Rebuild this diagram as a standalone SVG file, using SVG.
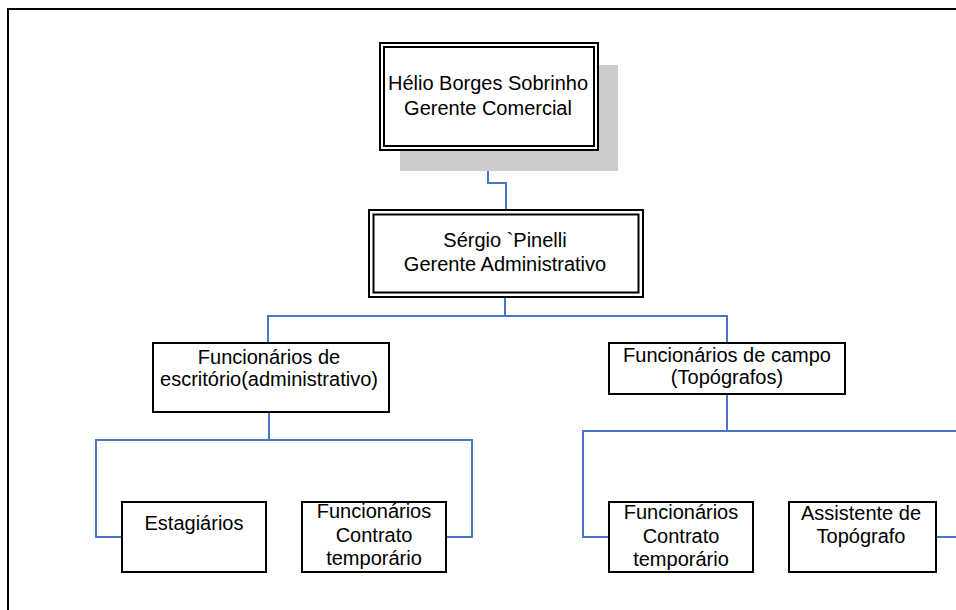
<svg xmlns="http://www.w3.org/2000/svg" width="956" height="610" viewBox="0 0 956 610">
  <style>
    .box { fill: #ffffff; stroke: #000000; stroke-width: 2; }
    .inner { fill: none; stroke: #000000; stroke-width: 2; }
    .shadow { fill: #cccccc; stroke: none; }
    .label { font-family: "Liberation Sans", Arial, sans-serif; font-size: 20px; fill: #000000; text-anchor: middle; }
    .link { fill: none; stroke: #4a78c6; stroke-width: 2; }
  </style>
  <rect x="0" y="0" width="956" height="610" fill="#ffffff"/>
  <!-- page frame -->
  <rect x="8" y="9" width="1000" height="700" fill="none" stroke="#000000" stroke-width="2"/>

  <g id="connectors">
    <path class="link" d="M488,150 V183 H506 V210"/>
    <path class="link" d="M505,297 V316"/>
    <path class="link" d="M268,343 V316 H727 V343"/>
    <path class="link" d="M269,412 V440"/>
    <path class="link" d="M122,537 H96 V440 H472 V537 H446"/>
    <path class="link" d="M727,394 V431"/>
    <path class="link" d="M609,537 H583 V431 H960"/>
    <path class="link" d="M936,537 H960"/>
  </g>

  <g id="gerente-comercial">
    <rect class="shadow" x="400" y="65" width="218" height="106"/>
    <rect class="box" x="380" y="43" width="218" height="107"/>
    <rect class="inner" x="384" y="47" width="210" height="99"/>
    <text class="label" x="488" y="90">Hélio Borges Sobrinho</text>
    <text class="label" x="488" y="115">Gerente Comercial</text>
  </g>

  <g id="gerente-administrativo">
    <rect class="box" x="369" y="210" width="274" height="87"/>
    <rect class="inner" x="373.5" y="214.5" width="265" height="78"/>
    <text class="label" x="505" y="247">Sérgio `Pinelli</text>
    <text class="label" x="505" y="271">Gerente Administrativo</text>
  </g>

  <g id="func-escritorio">
    <rect class="box" x="153" y="343" width="236" height="69"/>
    <text class="label" x="269" y="364">Funcionários de</text>
    <text class="label" x="269" y="386">escritório(administrativo)</text>
  </g>

  <g id="func-campo">
    <rect class="box" x="609" y="343" width="236" height="51"/>
    <text class="label" x="727" y="362">Funcionários de campo</text>
    <text class="label" x="727" y="384">(Topógrafos)</text>
  </g>

  <g id="estagiarios">
    <rect class="box" x="122" y="502" width="144" height="70"/>
    <text class="label" x="194" y="530">Estagiários</text>
  </g>

  <g id="contrato-escritorio">
    <rect class="box" x="302" y="502" width="144" height="70"/>
    <text class="label" x="374" y="518">Funcionários</text>
    <text class="label" x="374" y="542">Contrato</text>
    <text class="label" x="374" y="565">temporário</text>
  </g>

  <g id="contrato-campo">
    <rect class="box" x="609" y="502" width="144" height="70"/>
    <text class="label" x="681" y="519">Funcionários</text>
    <text class="label" x="681" y="543">Contrato</text>
    <text class="label" x="681" y="566">temporário</text>
  </g>

  <g id="assistente-topografo">
    <rect class="box" x="789" y="502" width="147" height="70"/>
    <text class="label" x="861" y="520">Assistente de</text>
    <text class="label" x="861" y="543">Topógrafo</text>
  </g>
</svg>
